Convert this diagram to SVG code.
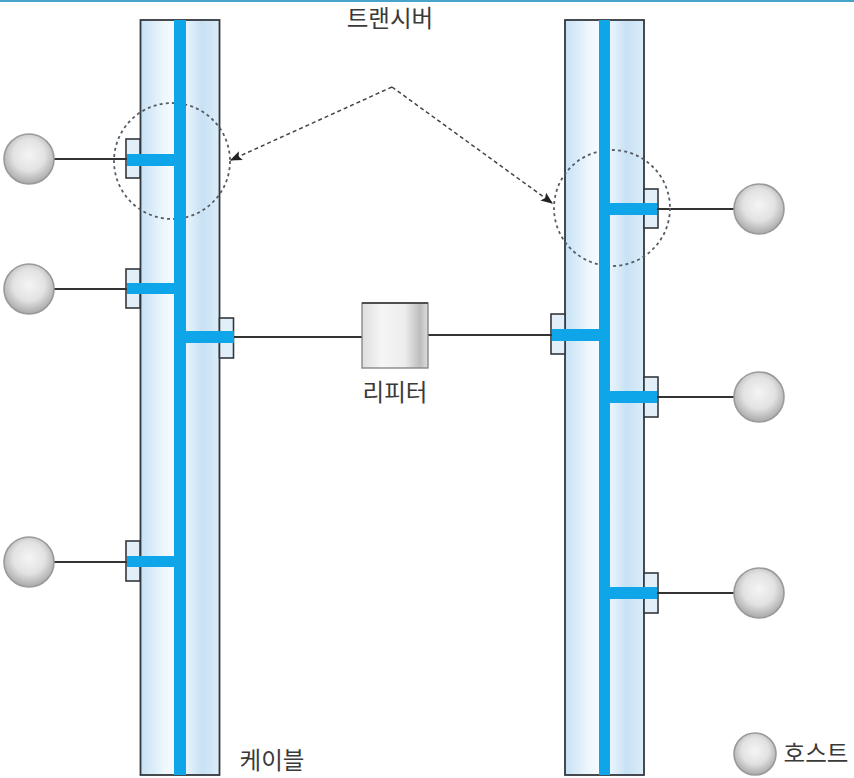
<svg xmlns="http://www.w3.org/2000/svg" width="854" height="778" viewBox="0 0 854 778">
<style>
.cable{fill:url(#cableFill);stroke:#33383d;stroke-width:1.8}
.core{fill:#0ea5e9}
.tap{fill:#e3eff8;stroke:#33383d;stroke-width:1.6}
.wire{fill:none;stroke:#333;stroke-width:1.8}
.host{fill:url(#hostFill);stroke:#9a9a9a;stroke-width:1.6}
.dot{fill:none;stroke:#555c64;stroke-width:1.8;stroke-dasharray:3 3.2}
.ptr{fill:none;stroke:#444;stroke-width:1.5;stroke-dasharray:4 3;marker-end:url(#arrow)}
.lbl{font-family:"Noto Sans CJK KR","Noto Sans",sans-serif;font-size:23.5px;fill:#3a3a3a;text-anchor:middle}
</style>
<defs>
<linearGradient id="cableFill" x1="0" x2="1" y1="0" y2="0">
<stop offset="0" stop-color="#c6e1f5"/><stop offset="0.3" stop-color="#eef7fd"/><stop offset="0.42" stop-color="#f5fbff"/><stop offset="0.6" stop-color="#e6f2fb"/><stop offset="0.78" stop-color="#c8e1f4"/><stop offset="1" stop-color="#dbedf9"/>
</linearGradient>
<radialGradient id="hostFill" cx="0.5" cy="0.42" r="0.58">
<stop offset="0" stop-color="#f5f5f5"/><stop offset="0.55" stop-color="#e2e2e2"/><stop offset="1" stop-color="#a8a8a8"/>
</radialGradient>
<linearGradient id="repFill" x1="0" x2="1" y1="0" y2="0">
<stop offset="0" stop-color="#dedede"/><stop offset="0.3" stop-color="#f6f6f6"/><stop offset="0.65" stop-color="#ececec"/><stop offset="0.88" stop-color="#bdbdbd"/><stop offset="1" stop-color="#dedede"/>
</linearGradient>
<marker id="arrow" viewBox="0 0 10 8" refX="9" refY="4" markerWidth="12" markerHeight="10" markerUnits="userSpaceOnUse" orient="auto"><path d="M0 0L10 4L0 8L2 4Z" fill="#222"/></marker>
</defs>
<rect id="top-bar" x="0" y="0" width="854" height="2" fill="#4aa3c8"/>

<g id="cable-left">
<rect class="cable" x="140.500" y="20" width="79" height="755"/>
</g>
<g id="cable-right">
<rect class="cable" x="565" y="20" width="79" height="755"/>
</g>

<g id="taps">
<rect class="tap" x="126" y="139" width="14" height="39"/>
<rect class="tap" x="126" y="269" width="14" height="39"/>
<rect class="tap" x="126" y="541" width="14" height="40"/>
<rect class="tap" x="219.500" y="318" width="14" height="40"/>
<rect class="tap" x="551" y="314" width="14" height="40"/>
<rect class="tap" x="644" y="189" width="14" height="39"/>
<rect class="tap" x="644" y="377" width="14" height="40"/>
<rect class="tap" x="644" y="573" width="14" height="40"/>
</g>

<g id="connectors">
<path class="wire" d="M54 159H127M54 289H127M54 562H127M234 337H362M428 335H552M657 209H734M657 397H734M657 593H734"/>
<circle class="dot" cx="172" cy="161" r="58"/>
<circle class="dot" cx="612" cy="208" r="58"/>
<path class="ptr" d="M392 87L231 160"/>
<path class="ptr" d="M392 87L552 203"/>
</g>

<g id="core">
<rect class="core" x="174" y="20" width="12" height="755"/>
<rect class="core" x="599" y="20" width="11" height="755"/>
<rect class="core" x="127" y="154" width="48" height="12"/>
<rect class="core" x="127" y="283" width="48" height="11"/>
<rect class="core" x="127" y="556" width="48" height="11"/>
<rect class="core" x="186" y="331" width="48" height="12"/>
<rect class="core" x="552" y="329" width="47" height="12"/>
<rect class="core" x="610" y="203" width="47" height="12"/>
<rect class="core" x="610" y="391" width="47" height="12"/>
<rect class="core" x="610" y="587" width="47" height="12"/>
</g>

<g id="host-l1"><circle class="host" cx="29" cy="159" r="25"/></g>
<g id="host-l2"><circle class="host" cx="29" cy="289" r="25"/></g>
<g id="host-l3"><circle class="host" cx="29" cy="562" r="25"/></g>
<g id="host-r1"><circle class="host" cx="759" cy="209" r="25"/></g>
<g id="host-r2"><circle class="host" cx="759" cy="397" r="25"/></g>
<g id="host-r3"><circle class="host" cx="759" cy="593" r="25"/></g>
<g id="host-legend"><circle class="host" cx="755" cy="754" r="21"/><text class="lbl" x="816" y="762">호스트</text></g>

<g id="repeater">
<rect x="362" y="303" width="66" height="65" fill="url(#repFill)" stroke="#808080" stroke-width="1.3"/>
<path d="M362 303H428" stroke="#333" stroke-width="1.5"/>
<text class="lbl" x="395" y="401">리피터</text>
</g>
<g id="label-transceiver"><text class="lbl" x="390" y="27">트랜시버</text></g>
<g id="label-cable"><text class="lbl" x="272" y="769">케이블</text></g>
</svg>
